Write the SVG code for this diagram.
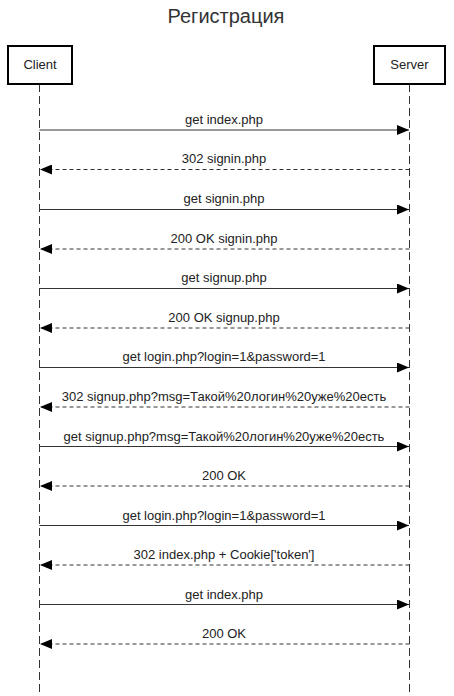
<svg xmlns="http://www.w3.org/2000/svg" width="454" height="696" viewBox="0 0 454 696">
<style>
.box{fill:#fff;stroke:#000;stroke-width:2}
.life{stroke:#333;stroke-width:1;stroke-dasharray:8 4;fill:none}
.msg{stroke:#333;stroke-width:1;fill:none}
.ret{stroke:#333;stroke-width:1;stroke-dasharray:4 3;fill:none}
text{font-family:"Liberation Sans",Arial,sans-serif;fill:#222}
.lbl{font-size:13px;text-anchor:middle}
.title{font-size:20px;text-anchor:middle;fill:#333}
</style>
<defs>
<marker id="ah" viewBox="0 0 12 10" refX="12" refY="5" markerWidth="12" markerHeight="10" markerUnits="userSpaceOnUse" orient="auto">
<path d="M0,0 L12,5 L0,10 z" fill="#000"/>
</marker>
</defs>
<rect width="454" height="696" fill="#fff"/>
<text class="title" x="226" y="23">Регистрация</text>
<g id="client">
<line class="life" x1="39.5" y1="84" x2="39.5" y2="696"/>
<rect class="box" x="8" y="46" width="64" height="38"/>
<text class="lbl" x="40" y="69">Client</text>
</g>
<g id="server">
<line class="life" x1="409.5" y1="84" x2="409.5" y2="696"/>
<rect class="box" x="374" y="46" width="71" height="38"/>
<text class="lbl" x="409.5" y="69">Server</text>
</g>
<g id="connectors">
<path class="msg" d="M39.5,130 H409" marker-end="url(#ah)"/>
<text class="lbl" x="224" y="124">get index.php</text>
<path class="ret" d="M409.5,169.5 H40" marker-end="url(#ah)"/>
<text class="lbl" x="224" y="163">302 signin.php</text>
<path class="msg" d="M39.5,209.5 H409" marker-end="url(#ah)"/>
<text class="lbl" x="224" y="203">get signin.php</text>
<path class="ret" d="M409.5,249 H40" marker-end="url(#ah)"/>
<text class="lbl" x="224" y="243">200 OK signin.php</text>
<path class="msg" d="M39.5,288.5 H409" marker-end="url(#ah)"/>
<text class="lbl" x="224" y="282">get signup.php</text>
<path class="ret" d="M409.5,328 H40" marker-end="url(#ah)"/>
<text class="lbl" x="224" y="322">200 OK signup.php</text>
<path class="msg" d="M39.5,367.5 H409" marker-end="url(#ah)"/>
<text class="lbl" x="224" y="361">get login.php?login=1&amp;password=1</text>
<path class="ret" d="M409.5,407 H40" marker-end="url(#ah)"/>
<text class="lbl" x="224" y="401">302 signup.php?msg=Такой%20логин%20уже%20есть</text>
<path class="msg" d="M39.5,446.5 H409" marker-end="url(#ah)"/>
<text class="lbl" x="224" y="441">get signup.php?msg=Такой%20логин%20уже%20есть</text>
<path class="ret" d="M409.5,486 H40" marker-end="url(#ah)"/>
<text class="lbl" x="224" y="480">200 OK</text>
<path class="msg" d="M39.5,525.5 H409" marker-end="url(#ah)"/>
<text class="lbl" x="224" y="520">get login.php?login=1&amp;password=1</text>
<path class="ret" d="M409.5,565 H40" marker-end="url(#ah)"/>
<text class="lbl" x="224" y="559">302 index.php + Cookie['token']</text>
<path class="msg" d="M39.5,604.5 H409" marker-end="url(#ah)"/>
<text class="lbl" x="224" y="599">get index.php</text>
<path class="ret" d="M409.5,644 H40" marker-end="url(#ah)"/>
<text class="lbl" x="224" y="638">200 OK</text>
</g>
</svg>
